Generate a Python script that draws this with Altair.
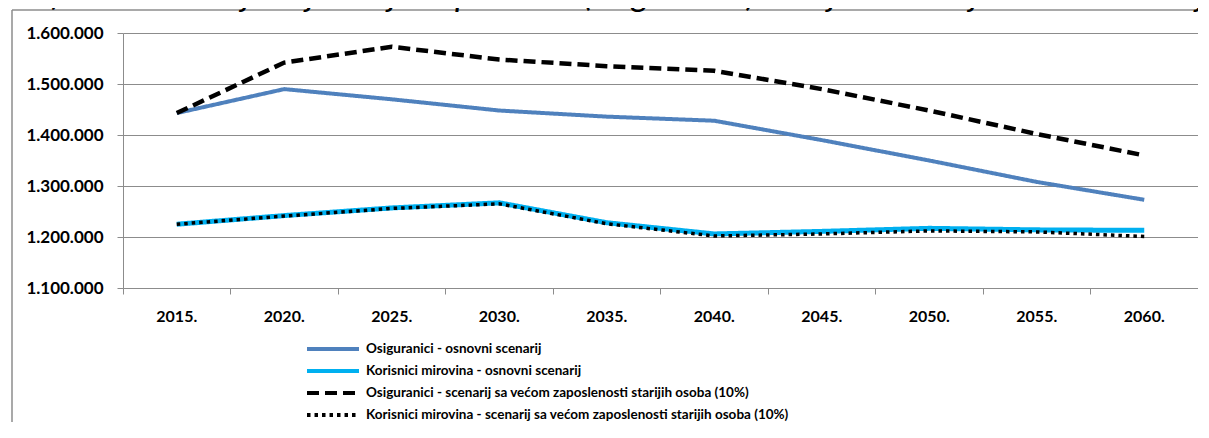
import altair as alt
import pandas as pd

years = ["2015.", "2020.", "2025.", "2030.", "2035.", "2040.", "2045.", "2050.", "2055.", "2060."]
osig_osnovni = [1443000, 1490000, 1470000, 1448000, 1436000, 1428000, 1390000, 1350000, 1308000, 1273000]
koris_osnovni = [1225000, 1242000, 1257000, 1267000, 1228000, 1206000, 1211000, 1217000, 1214000, 1213000]
osig_vece = [1443000, 1542000, 1573000, 1548000, 1535000, 1526000, 1490000, 1448000, 1402000, 1360000]
koris_vece = [1225000, 1241000, 1256000, 1265000, 1226000, 1202000, 1206000, 1212000, 1210000, 1201000]

series_names = [
    "Osiguranici - osnovni scenarij",
    "Korisnici mirovina - osnovni scenarij",
    "Osiguranici - scenarij sa većom zaposlenosti starijih osoba (10%)",
    "Korisnici mirovina - scenarij sa većom zaposlenosti starijih osoba (10%)",
]
series_values = [osig_osnovni, koris_osnovni, osig_vece, koris_vece]
series_colors = ["#4F81BD", "#00B0F0", "#000000", "#000000"]
series_dash = [[1, 0], [1, 0], [12, 6], [3.5, 4]]
series_width = [4, 5, 4.5, 3.5]

title_text = "Grafikon 6.3. Projekcija broja zaposlenih (osiguranici) i broja umirovljenika u razdoblju 2015. – 2060."

rows = []
for name, vals in zip(series_names, series_values):
    for yr, v in zip(years, vals):
        rows.append({"godina": yr, "vrijednost": v, "serija": name})
df = pd.DataFrame(rows)

FONT = "Lato"
GRID = "#8c8c8c"

x_enc = alt.X(
    "godina:N",
    sort=years,
    scale=alt.Scale(type="band", paddingInner=0, paddingOuter=0),
    axis=alt.Axis(
        title=None, labelAngle=0, bandPosition=0,
        tickSize=6, tickColor=GRID, domainColor=GRID, labelPadding=14,
        labelFont=FONT, labelFontSize=16, labelFontWeight="bold", labelColor="#000000",
        grid=False,
    ),
)
y_enc = alt.Y(
    "vrijednost:Q",
    scale=alt.Scale(domain=[1100000, 1600000], nice=False, zero=False),
    axis=alt.Axis(
        title=None, values=[1100000, 1200000, 1300000, 1400000, 1500000, 1600000],
        labelExpr="replace(format(datum.value, ','), /,/g, '.')",
        tickSize=6, tickColor=GRID, domainColor=GRID, gridColor=GRID, grid=True,
        labelPadding=14, labelFont=FONT, labelFontSize=17, labelFontWeight="bold",
        labelColor="#000000",
    ),
)
legend = alt.Legend(
    title=None, orient="none", legendX=182, legendY=305, direction="vertical",
    symbolType="stroke", symbolSize=2700, symbolStrokeWidth=4, clipHeight=22,
    rowPadding=0, labelFont=FONT, labelFontSize=13.5, labelFontWeight="bold",
    labelColor="#000000", labelLimit=900, labelOffset=5,
)
color_enc = alt.Color("serija:N", scale=alt.Scale(domain=series_names, range=series_colors), legend=legend)
dash_enc = alt.StrokeDash("serija:N", scale=alt.Scale(domain=series_names, range=series_dash), legend=legend)

one = pd.DataFrame({"a": [0]})
layers = []
frame_left = alt.Chart(one).mark_rule(color=GRID, strokeWidth=1.5).encode(
    x=alt.value(-111), y=alt.value(-23), y2=alt.value(403))
frame_top = alt.Chart(one).mark_rule(color=GRID, strokeWidth=1.5).encode(
    x=alt.value(-111), x2=alt.value(1080), y=alt.value(-23))
layers += [frame_left, frame_top]
title = alt.Chart(pd.DataFrame({"t": [title_text]})).mark_text(
    align="left", baseline="alphabetic", font=FONT, fontSize=35, fontStyle="italic", color="#000000"
).encode(x=alt.value(-125), y=alt.value(-27), text="t:N")
layers.append(title)

for name, w in zip(series_names, series_width):
    layers.append(
        alt.Chart(df).transform_filter(alt.datum.serija == name).mark_line(strokeWidth=w)
        .encode(x=x_enc, y=y_enc, color=color_enc, strokeDash=dash_enc)
    )

chart = alt.layer(*layers).properties(
    width=1075, height=255,
    padding={"left": 115, "top": 25, "right": 0, "bottom": 134},
    autosize=alt.AutoSizeParams(type="none"),
).configure_view(stroke=None)

chart.save("out.html", embed_options={"renderer": "svg", "actions": False})
